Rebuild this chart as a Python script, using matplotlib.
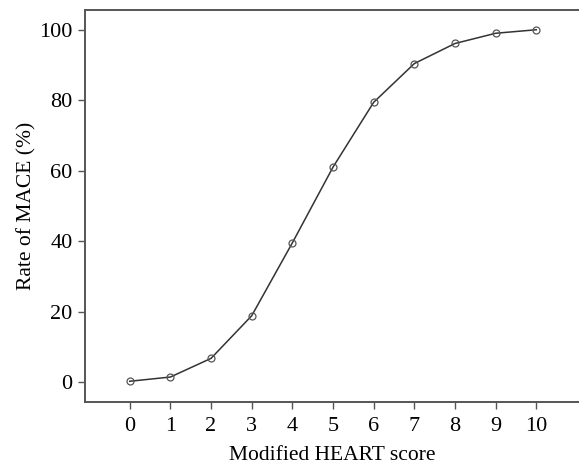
import numpy as np
import matplotlib
matplotlib.use("Agg")
import matplotlib.pyplot as plt

plt.rcParams["font.family"] = ["Liberation Serif", "DejaVu Serif"]

# data
scores = [0, 1, 2, 3, 4, 5, 6, 7, 8, 9, 10]
mace_rate = [0.2, 1.4, 6.7, 18.8, 39.5, 61.0, 79.4, 90.4, 96.1, 99.0, 100.0]
y_ticks = [0, 20, 40, 60, 80, 100]

fig = plt.figure(figsize=(5.79, 4.66), dpi=100)
ax = fig.add_axes([0.1468, 0.138, 0.8532, 0.8405])

ax.plot(scores, mace_rate, color="#333333", lw=1.1,
        marker="o", markersize=5, markerfacecolor="none",
        markeredgecolor="#555555", markeredgewidth=0.9)

ax.set_xlim(-1.1, 11.05)
ax.set_ylim(-5.6, 105.6)
ax.set_xticks(scores)
ax.set_yticks(y_ticks)

for side in ("left", "bottom", "top"):
    ax.spines[side].set_color("#555555")
    ax.spines[side].set_linewidth(1.4)
ax.spines["right"].set_visible(False)

ax.tick_params(axis="both", labelsize=16, length=5, width=1.0,
               color="#555555")
ax.tick_params(axis="x", pad=6)
ax.tick_params(axis="y", pad=4)
ax.set_xlabel("Modified HEART score", fontsize=15.5, labelpad=7)
ax.set_ylabel("Rate of MACE (%)", fontsize=15.5, labelpad=2)

fig.savefig("out.png", dpi=100)
